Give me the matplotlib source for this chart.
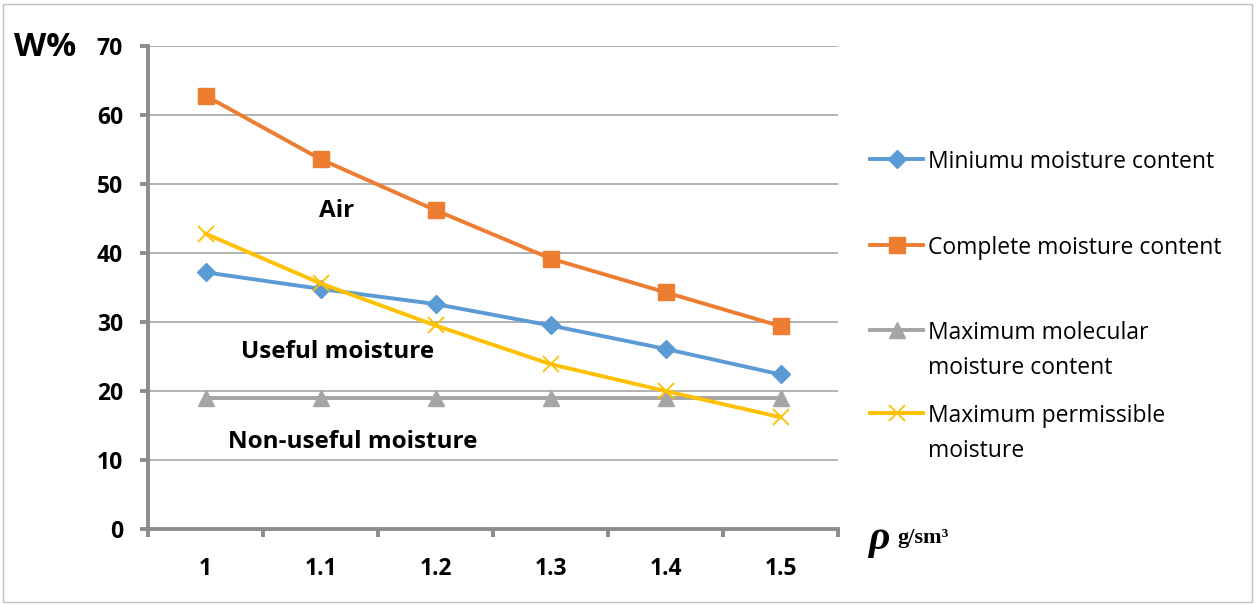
import numpy as np
import matplotlib
matplotlib.use("Agg")
import matplotlib.pyplot as plt
from matplotlib.patches import Rectangle
from matplotlib.lines import Line2D

# data
density = ["1", "1.1", "1.2", "1.3", "1.4", "1.5"]
min_moist = [37.2, 34.8, 32.6, 29.5, 26.1, 22.4]
complete_moist = [62.8, 53.6, 46.2, 39.2, 34.3, 29.4]
max_molecular = [19.0, 19.0, 19.0, 19.0, 19.0, 19.0]
max_permissible = [42.8, 35.6, 29.5, 23.9, 20.0, 16.2]

labels = ['Miniumu moisture content', 'Complete moisture content',
          'Maximum molecular\nmoisture content', 'Maximum permissible\nmoisture']

plt.rcParams['font.family'] = ['Open Sans', 'DejaVu Sans']

W, H = 1256, 605
fig = plt.figure(figsize=(W / 100, H / 100), dpi=100)
ax = fig.add_axes([148/W, 1-529/H, 690/W, 483/H])

def fx(px):
    return px / W

def fy(py):
    return 1 - py / H

styles = [
    dict(color='#5B9BD5', marker='D', ms=9),
    dict(color='#ED7D31', marker='s', ms=11),
    dict(color='#A5A5A5', marker='^', ms=11),
    dict(color='#FFC000', marker='x', ms=11, mew=1.3),
]
series = [min_moist, complete_moist, max_molecular, max_permissible]
zs = [4, 4, 3, 5]

x = np.arange(len(density))
for vals, st, lab, z in zip(series, styles, labels, zs):
    ax.plot(x, vals, lw=2.8, label=lab, zorder=z, **st)

ax.set_xlim(-0.5, 5.5)
ax.set_ylim(0, 70)
ax.set_yticks(np.arange(0, 71, 10))
ax.set_xticks(x)
ax.set_xticklabels(density)
ax.set_xticks(np.arange(-0.5, 5.6, 1), minor=True)
ax.tick_params(axis='x', which='major', length=0, pad=20)
ax.tick_params(axis='x', which='minor', length=6, width=2.8, color='#8C8C8C', direction='out')
ax.tick_params(axis='y', length=6, width=2.8, color='#8C8C8C', direction='out', pad=12)
for lab in ax.get_xticklabels() + ax.get_yticklabels():
    lab.set_fontweight('bold')
    lab.set_fontsize(16.5)

ax.grid(axis='y', color='#A6A6A6', lw=1.2)
ax.set_axisbelow(True)
for s in ['top', 'right']:
    ax.spines[s].set_visible(False)
for s in ['left', 'bottom']:
    ax.spines[s].set_color('#8C8C8C')
    ax.spines[s].set_linewidth(2.8)

# region labels
ax.text(1.14, 46.1, 'Air', ha='center', va='center', fontsize=17.5, fontweight='bold')
ax.text(1.15, 25.6, 'Useful moisture', ha='center', va='center', fontsize=17.5, fontweight='bold')
ax.text(1.28, 12.6, 'Non-useful moisture', ha='center', va='center', fontsize=17.5, fontweight='bold')

# axis titles
fig.text(fx(14), fy(47), 'W%', fontsize=24, fontweight='bold', va='center', ha='left')
fig.text(fx(868), fy(539), 'ρ', fontsize=30, style='italic', fontweight='bold',
         va='center', ha='left', family='Liberation Serif')
fig.text(fx(897), fy(538), 'g/sm³', fontsize=16, fontweight='bold', va='center', ha='left',
         family='Liberation Serif')

# legend drawn by hand so the key sits on the first line of each label
leg_y = [159, 245, 330, 413]
for yy, st, lab in zip(leg_y, styles, labels):
    fig.add_artist(Line2D([fx(870), fx(923)], [fy(yy), fy(yy)], lw=2.8,
                          color=st['color']))
    fig.add_artist(Line2D([fx(896.5)], [fy(yy)], lw=0, transform=fig.transFigure, **st))
    fig.text(fx(928), fy(yy - 9), lab, fontsize=16.5, va='top', ha='left',
             linespacing=1.6)

fig.patches.append(Rectangle((3/W, 3/H), 1249/W, 598/H, transform=fig.transFigure,
                             fill=False, edgecolor='#BFBFBF', lw=1))

fig.savefig('out.png', dpi=100)
